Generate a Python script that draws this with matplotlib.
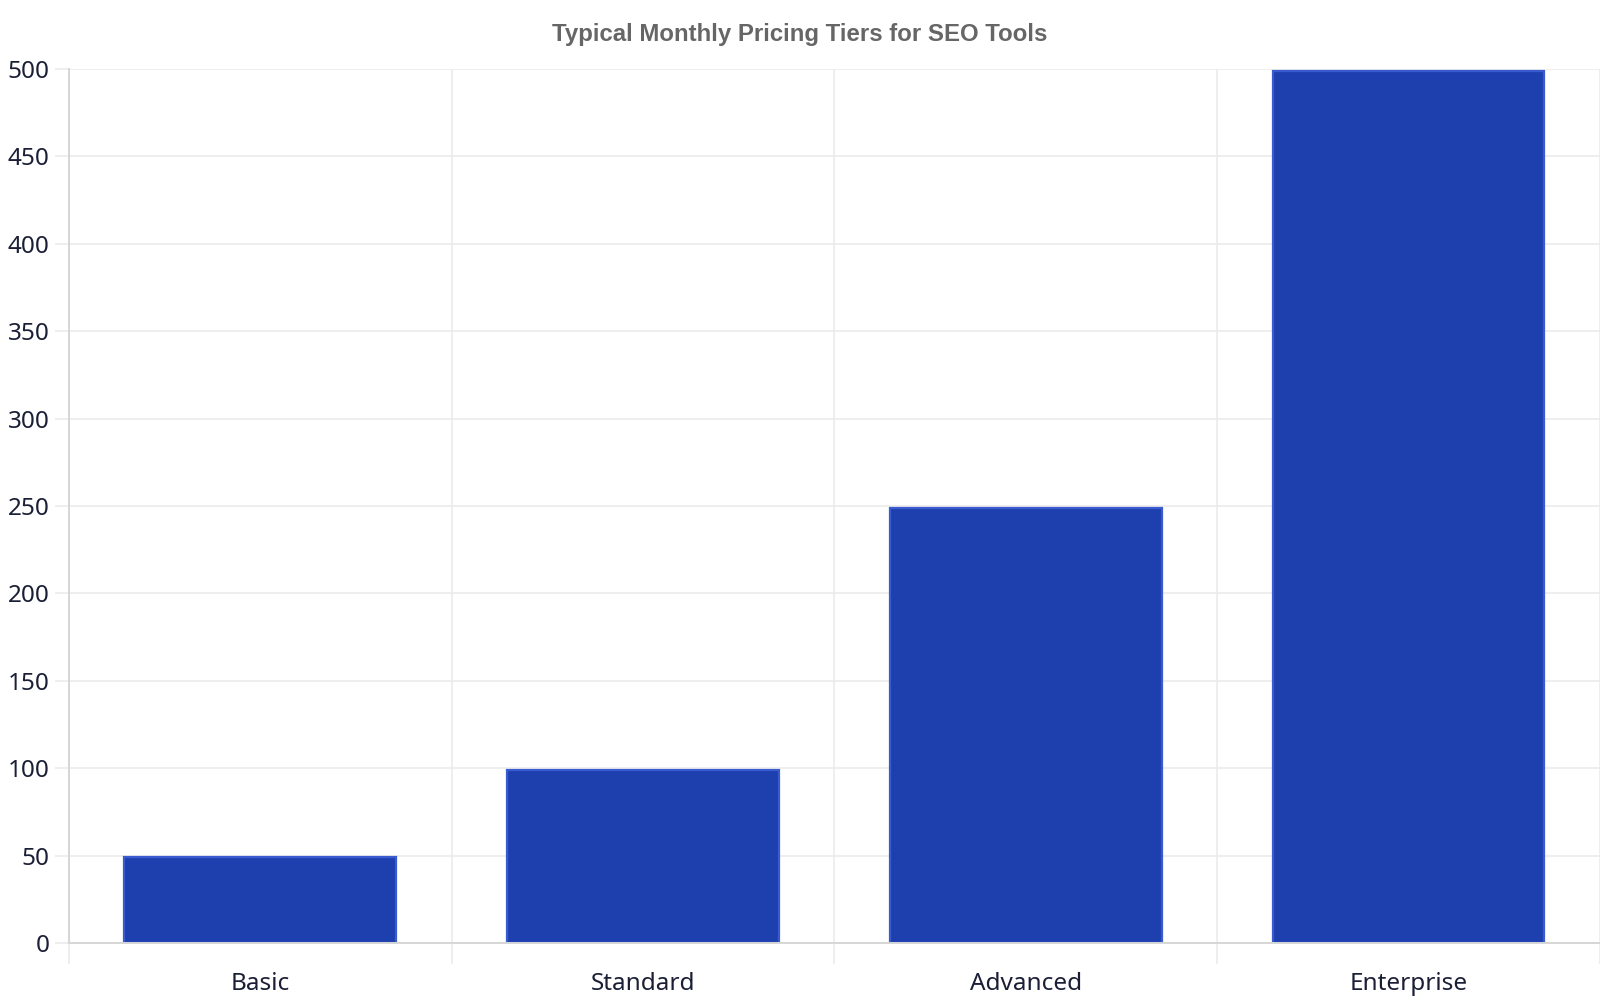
import matplotlib
matplotlib.use("Agg")
import matplotlib.pyplot as plt
import numpy as np

# data
tiers = ["Basic", "Standard", "Advanced", "Enterprise"]
prices = [49, 99, 249, 499]

title = "Typical Monthly Pricing Tiers for SEO Tools"
bar_color = "#1e40af"
edge_color = "#3a5bd0"
grid_color = "#ebebeb"
axis_color = "#d6d6d6"
text_color = "#1a1f36"

fig = plt.figure(figsize=(16, 10), dpi=100)
ax = fig.add_axes([0.043, 0.057, 0.957, 0.874])

x = np.arange(len(tiers))
ax.bar(x, prices, width=0.71, color=bar_color, edgecolor=edge_color,
       linewidth=1.6, zorder=3)

ax.set_xlim(-0.5, len(tiers) - 0.5)
ax.set_ylim(0, 500)
ax.set_yticks(np.arange(0, 501, 50))

# category labels in the middle, gridlines on the boundaries
ax.set_xticks(x)
ax.set_xticklabels(tiers, fontsize=17.5, color=text_color, family="Noto Sans")
ax.tick_params(axis="x", length=0, pad=21)
ax.set_xticks(np.arange(-0.5, len(tiers)), minor=True)
ax.tick_params(axis="x", which="minor", length=15, width=1.2, color=grid_color)
ax.grid(axis="x", which="minor", color=grid_color, linewidth=1.2, zorder=0)
ax.grid(axis="y", which="major", color=grid_color, linewidth=1.2, zorder=0)

ax.tick_params(axis="y", length=10, width=1.2, color=grid_color, pad=4)
for lbl in ax.get_yticklabels():
    lbl.set_fontsize(17.5)
    lbl.set_color(text_color)
    lbl.set_family("Noto Sans")

for side in ["top", "right"]:
    ax.spines[side].set_visible(False)
ax.spines["left"].set_color(axis_color)
ax.spines["left"].set_linewidth(1.4)
ax.spines["bottom"].set_color(axis_color)
ax.spines["bottom"].set_linewidth(1.4)
ax.spines["bottom"].set_zorder(4)

fig.text(0.5, 0.966, title, ha="center", va="center", fontsize=17.3,
         fontweight="bold", color="#666666", family="Liberation Sans")

fig.savefig("out.png", dpi=100, facecolor="white")
